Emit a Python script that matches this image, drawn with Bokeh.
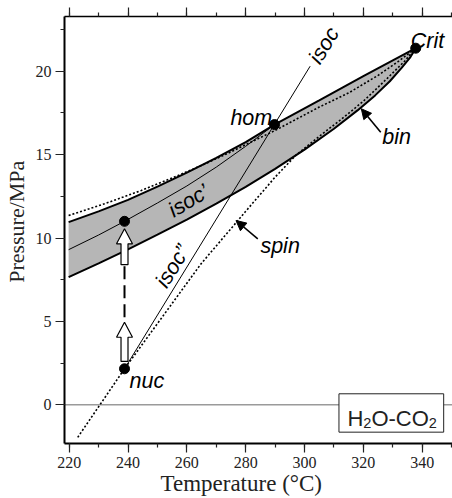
from bokeh.plotting import figure
from bokeh.models import (Range1d, LinearAxis, SingleIntervalTicker, Span, Arrow,
                          NormalHead, CustomJSTickFormatter)
from bokeh.core.properties import value
from bokeh.embed import file_html
from bokeh.resources import INLINE

# ---------------- data ----------------
bin_upper_T = [219.8, 230.0, 240.0, 250.0, 260.0, 270.0, 280.0, 289.8, 305.0, 320.0, 337.8]
bin_upper_P = [10.95, 11.60, 12.29, 13.08, 13.92, 14.80, 15.75, 16.80, 18.25, 19.70, 21.38]
bin_lower_T = [219.8, 230.0, 240.0, 250.0, 260.0, 270.0, 280.0, 290.0, 300.0, 310.0,
               318.0, 324.0, 329.0, 333.0, 336.0, 337.8]
bin_lower_P = [7.65, 8.48, 9.32, 10.20, 11.10, 12.06, 13.07, 14.14, 15.30, 16.55,
               17.65, 18.55, 19.40, 20.20, 20.85, 21.38]

spin_up_T = [219.8, 232.0, 244.5, 255.0, 265.0, 273.6, 290.0, 305.0, 315.0, 325.0,
             332.0, 337.8]
spin_up_P = [11.35, 12.05, 12.85, 13.60, 14.35, 15.05, 16.45, 17.85, 18.70, 19.75,
             20.60, 21.38]
spin_lo_T = [222.9, 238.8, 264.8, 280.0, 290.0, 297.0, 305.0, 312.0, 320.0, 328.0,
             334.0, 337.8]
spin_lo_P = [-1.95, 2.16, 8.45, 11.60, 13.65, 14.95, 16.10, 17.05, 18.20, 19.55,
             20.60, 21.38]

isoc_T = [238.8, 301.9]
isoc_P = [2.16, 20.30]
isoc1_T = [219.8, 230.0, 238.8, 250.0, 260.0, 270.0, 280.0, 289.8]
isoc1_P = [9.30, 10.18, 11.00, 12.10, 13.12, 14.25, 15.50, 16.80]

point_T = [238.8, 238.8, 289.8, 337.8]
point_P = [2.16, 11.00, 16.80, 21.38]

path_T = 238.8
arrow_lo = (2.60, 4.95)
arrow_hi = (8.40, 10.55)

label_text = ["Crit", "hom", "bin", "spin", "nuc"]
label_T = [336.1, 274.8, 326.4, 285.0, 240.5]
label_P = [21.81, 17.20, 16.06, 9.55, 1.40]

rot_text = ["isoc", "isoc\u2019", "isoc\u201d"]
rot_T = [306.6, 260.6, 255.2]
rot_P = [21.54, 12.22, 8.30]
rot_angle = [58.4, 31.0, 58.4]

pointer_start = [(325.9, 16.34), (284.1, 9.95)]
pointer_end = [(319.3, 17.75), (276.7, 11.05)]

x_ticks_major = 20
y_ticks_major = 5
x_title = "Temperature (\u00b0C)"
y_title = "Pressure/MPa"

# ---------------- layout ----------------
X0, X1 = 218.4, 350.3
Y0, Y1 = -2.32, 23.28
W, H = 452, 498
BL, BR, BT, BB = 63, 0, 16, 55
FW, FH = W - BL - BR, H - BT - BB
sx = FW / (X1 - X0)
sy = FH / (Y1 - Y0)

p = figure(width=W, height=H, x_range=Range1d(X0, X1), y_range=Range1d(Y0, Y1),
           output_backend="svg", toolbar_location=None, x_axis_location=None,
           y_axis_location=None, min_border_left=BL, min_border_right=BR,
           min_border_top=BT, min_border_bottom=BB)
p.outline_line_color = None
p.background_fill_color = "white"
p.border_fill_color = "white"
p.xgrid.visible = False
p.ygrid.visible = False

serif = "Liberation Serif"
sans = "Liberation Sans"


def style_axis(ax, width):
    ax.axis_line_width = width
    ax.axis_line_color = "black"
    ax.major_tick_out = 9
    ax.major_tick_in = 0
    ax.minor_tick_out = 4
    ax.minor_tick_in = 0
    ax.major_tick_line_width = 1.2
    ax.minor_tick_line_width = 1.2
    ax.major_tick_line_color = "#222222"
    ax.minor_tick_line_color = "#222222"
    ax.major_label_text_font = serif
    ax.major_label_text_font_size = "16px"
    ax.major_label_text_color = "#222222"
    ax.axis_label_text_font = serif
    ax.axis_label_text_font_size = "22px"
    ax.axis_label_text_font_style = "normal"
    ax.axis_label_text_color = "#222222"


xb = LinearAxis(ticker=SingleIntervalTicker(interval=x_ticks_major, num_minor_ticks=2))
style_axis(xb, 2)
xb.major_label_standoff = 4
xb.axis_label = x_title + "\u00a0" * 6
xb.axis_label_text_font_size = "23px"
xb.axis_label_standoff = 0
p.add_layout(xb, "below")

xt = LinearAxis(ticker=SingleIntervalTicker(interval=x_ticks_major, num_minor_ticks=2),
                formatter=CustomJSTickFormatter(code="return ''"))
style_axis(xt, 1.5)
xt.major_tick_out = 9
xt.major_label_standoff = 0
xt.major_label_text_font_size = "0px"
p.add_layout(xt, "above")

yl = LinearAxis(ticker=SingleIntervalTicker(interval=y_ticks_major, num_minor_ticks=2))
style_axis(yl, 2)
yl.major_label_standoff = 4
yl.axis_label = "\u00a0" * 3 + y_title
yl.axis_label_standoff = 4
p.add_layout(yl, "left")

zero = Span(location=0, dimension="width", line_color="#9a9a9a", line_width=1.5,
            level="underlay")
p.add_layout(zero)

# binodal envelope
env_T = bin_upper_T + bin_lower_T[::-1]
env_P = bin_upper_P + bin_lower_P[::-1]
p.patch(env_T, env_P, fill_color="#b6b6b6", line_color=None)
p.line(bin_upper_T, bin_upper_P, line_color="black", line_width=2)
p.line(bin_lower_T, bin_lower_P, line_color="black", line_width=2)

# spinodals
p.line(spin_up_T, spin_up_P, line_color="black", line_width=1.6, line_dash="2 2")
p.line(spin_lo_T, spin_lo_P, line_color="black", line_width=1.6, line_dash="2 2")

# isochores
p.line(isoc_T, isoc_P, line_color="black", line_width=1)
p.line(isoc1_T, isoc1_P, line_color="black", line_width=1)

# dashed vertical path
p.line([path_T, path_T], [arrow_lo[1], arrow_hi[0]], line_color="black",
       line_width=2, line_dash="13 6", line_dash_offset=14)


def block_arrow(T, p_tail, p_tip, shaft_px=7, head_w_px=16, head_l_px=15):
    hs = shaft_px / 2 / sx
    hh = head_w_px / 2 / sx
    base = p_tip - head_l_px / sy
    xs = [T, T + hh, T + hs, T + hs, T - hs, T - hs, T - hh]
    ys = [p_tip, base, base, p_tail, p_tail, base, base]
    return xs, ys


for tail, tip in (arrow_lo, arrow_hi):
    ax_, ay_ = block_arrow(path_T, tail, tip)
    p.patch(ax_, ay_, fill_color="white", line_color="black", line_width=1.2)

# points
p.scatter(point_T, point_P, size=10, fill_color="black", line_color="black")

# pointer arrows
for (xs_, ys_), (xe_, ye_) in zip(pointer_start, pointer_end):
    p.add_layout(Arrow(end=NormalHead(size=10, fill_color="black", line_color="black",
                                      line_width=1),
                       x_start=xs_, y_start=ys_, x_end=xe_, y_end=ye_,
                       line_width=1.6, line_color="black"))

# labels
p.text(label_T, label_P, text=label_text, text_font=value(sans),
       text_font_style="italic", text_font_size="21.5px", text_color="black",
       text_baseline="alphabetic", text_align="left")
p.text(rot_T, rot_P, text=rot_text, angle=rot_angle, angle_units="deg",
       text_font=value(sans), text_font_style="italic", text_font_size="21.5px",
       text_color="black", text_baseline="middle", text_align="center")

# H2O-CO2 box
box_l, box_r, box_b, box_t = 311.7, 347.3, -1.64, 0.66
p.quad(left=[box_l], right=[box_r], bottom=[box_b], top=[box_t],
       fill_color="white", line_color="#222222", line_width=1)
pieces = ["H", "2", "O-CO", "2"]
sizes = [22, 14.5, 22, 14.5]
widths = [0.722 * 22, 0.556 * 14.5, 2.611 * 22, 0.556 * 14.5]
offs = [0]
for w_ in widths[:-1]:
    offs.append(offs[-1] + w_)
dy = [0, 4.5, 0, 4.5]
text_x0, text_base = 314.6, -0.84
for t_, s_, o_, d_ in zip(pieces, sizes, offs, dy):
    p.text([text_x0], [text_base], text=[t_], x_offset=o_, y_offset=d_,
           text_font=value(sans), text_font_size=f"{s_}px", text_color="#222222",
           text_baseline="alphabetic", text_align="left")

open("out.html", "w").write(file_html(p, INLINE))
